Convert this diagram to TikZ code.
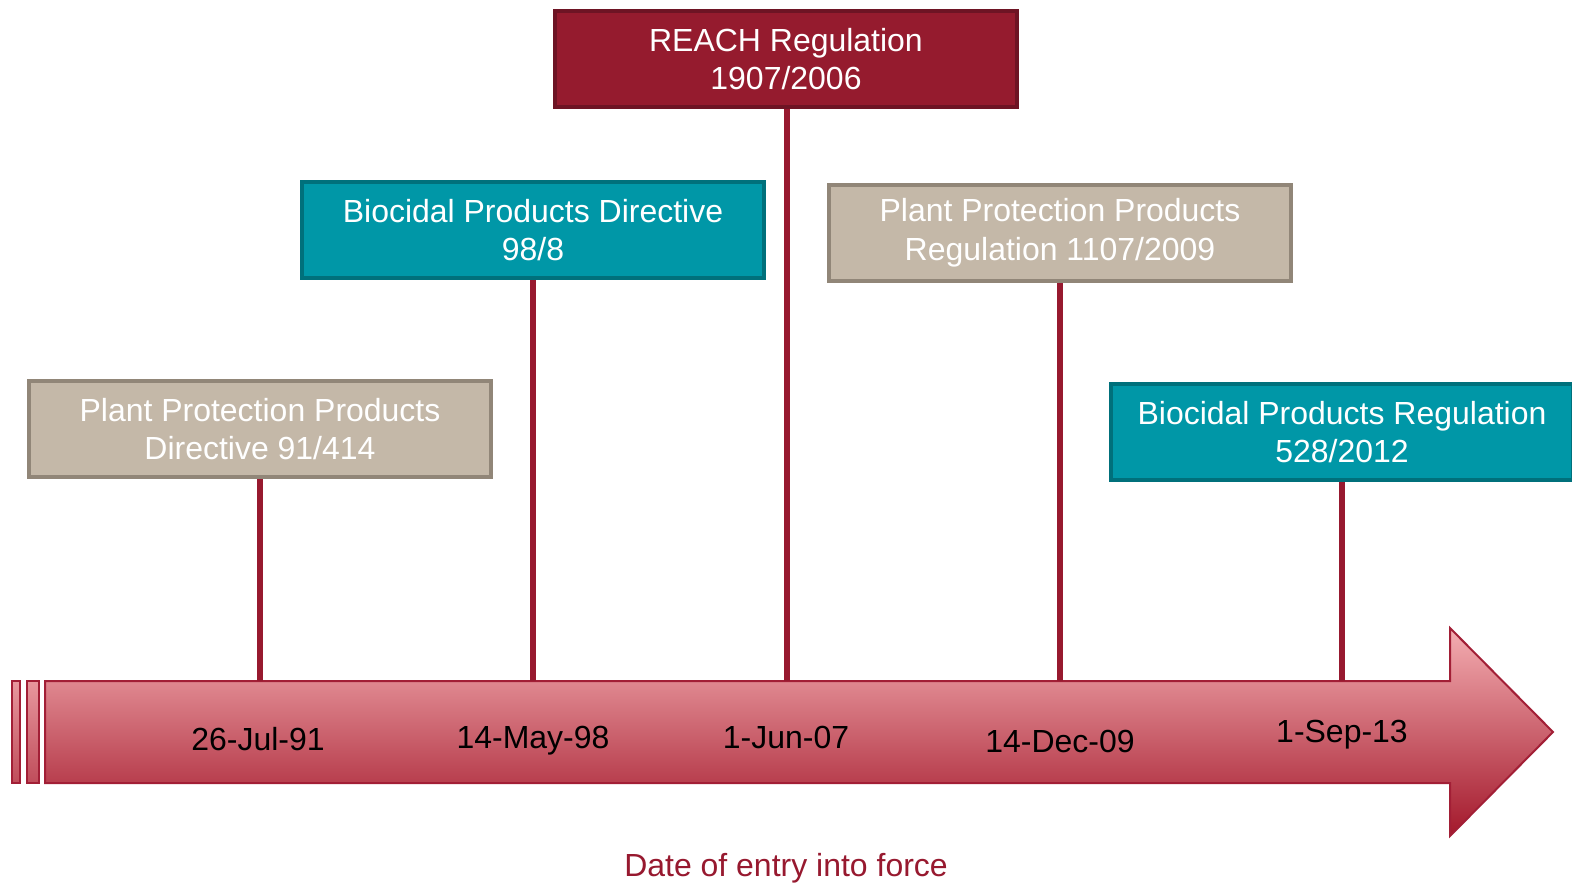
\documentclass[tikz,border=0pt]{standalone}
\usepackage{fontspec}
\setmainfont{Liberation Sans}
\usetikzlibrary{positioning}

\definecolor{reachred}{HTML}{951B2E}
\definecolor{reachedge}{HTML}{6E1424}
\definecolor{teal}{HTML}{0097A7}
\definecolor{tealedge}{HTML}{00707B}
\definecolor{beige}{HTML}{C4B8A8}
\definecolor{beigeedge}{HTML}{918678}
\definecolor{stemred}{HTML}{97192F}
\definecolor{arrowtop}{HTML}{F4AEB2}
\definecolor{arrowbot}{HTML}{A3182B}
\definecolor{arrowedge}{HTML}{A21F36}

\tikzset{
	box/.style={minimum width=9.26cm, minimum height=1.94cm, line width=0.08cm,
		text=white, align=center, font=\fontsize{18.2}{22}\selectfont},
	reachbox/.style={box, fill=reachred, draw=reachedge},
	tealbox/.style={box, fill=teal, draw=tealedge},
	beigebox/.style={box, fill=beige, draw=beigeedge},
	stem/.style={stemred, line width=0.11cm},
	date/.style={font=\fontsize{18.2}{22}\selectfont}
}

\begin{document}
\begin{tikzpicture}[x=0.02cm, y=-0.02cm]
	\useasboundingbox (0,0) rectangle (1572,886);
	
	% time axis
	\shade[top color=arrowtop, bottom color=arrowbot, draw=arrowedge, line width=0.04cm]
		(45,681) -- (1450,681) -- (1450,628) -- (1553,732) -- (1450,836) -- (1450,783) -- (45,783) -- cycle;
	\shade[top color=arrowtop!85!arrowbot, bottom color=arrowtop!35!arrowbot, draw=arrowedge, line width=0.04cm]
		(12,681) rectangle (20,783);
	\shade[top color=arrowtop!85!arrowbot, bottom color=arrowtop!35!arrowbot, draw=arrowedge, line width=0.04cm]
		(27,681) rectangle (39,783);
	\coordinate (axis) at (0,681);
	
	% legislation
	\node[beigebox] (ppd) at (260,429) {Plant Protection Products\\Directive 91/414};
	\node[tealbox] (bpd) at (533,230) {Biocidal Products Directive\\98/8};
	\node[reachbox] (reach) at (786,59) {REACH Regulation\\1907/2006};
	\node[beigebox] (ppr) at (1060,233) {Plant Protection Products\\Regulation 1107/2009};
	\node[tealbox] (bpr) at (1342,432) {Biocidal Products Regulation\\528/2012};
	
	\draw[stem] (ppd.south) -- (ppd.south |- axis);
	\draw[stem] (bpd.south) -- (bpd.south |- axis);
	\draw[stem] ([xshift=0.02cm]reach.south) -- ([xshift=0.02cm]reach.south |- axis);
	\draw[stem] (ppr.south) -- (ppr.south |- axis);
	\draw[stem] (bpr.south) -- (bpr.south |- axis);
	
	% dates
	\node[date] (d1) at (258,739) {26-Jul-91};
	\node[date] (d2) at (533,741) {14-May-98};
	\node[date] (d3) at (786,737) {1-Jun-07};
	\node[date] (d4) at (1060,741) {14-Dec-09};
	\node[date] (d5) at (1342,735) {1-Sep-13};
	
	\node[date, text=stemred] (cap) at (786,868) {Date of entry into force};
\end{tikzpicture}
\end{document}
